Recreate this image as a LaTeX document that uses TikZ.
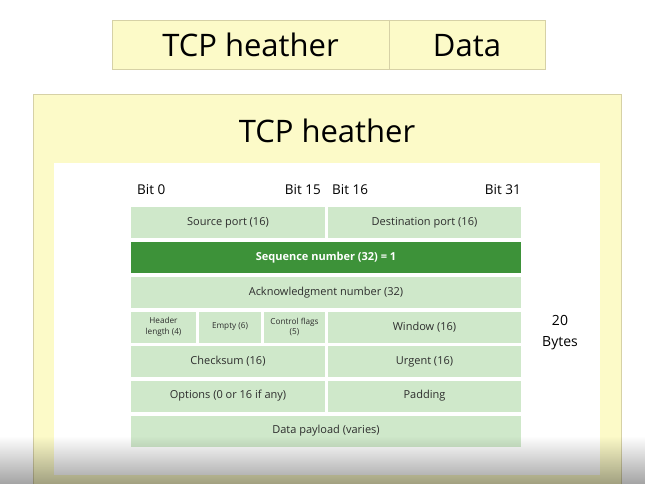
\documentclass[tikz,border=0pt]{standalone}
\usepackage{fontspec}
\setmainfont{Open Sans}
\usepackage{tikz}
\usetikzlibrary{fadings}
\definecolor{hdrY}{RGB}{252,250,200}
\definecolor{hdrLine}{RGB}{214,209,166}
\definecolor{cellG}{RGB}{207,232,202}
\definecolor{seqG}{RGB}{61,146,57}
\definecolor{txtG}{RGB}{45,45,45}
\tikzset{
  cell/.style={fill=cellG, text=txtG, minimum height=31pt, inner sep=0pt,
    align=center, font=\fontsize{11}{13}\selectfont},
  smallcell/.style={cell, font=\fontsize{8.2}{10.5}\selectfont},
  bitlbl/.style={font=\fontsize{13.5}{16}\selectfont, inner sep=0pt},
  bigtxt/.style={font=\fontsize{31}{36}\selectfont, inner sep=0pt}
}

\begin{document}
\begin{tikzpicture}[x=1pt, y=-1pt]
\useasboundingbox[fill=white] (0,0) rectangle (646,484);
% ===== top strip: segment = header + data =====
\draw[hdrLine, fill=hdrY] (112,20) rectangle (545,69);
\draw[hdrLine] (389,20) -- (389,69);
\node[bigtxt, anchor=base] (seghdr) at (250.5,57) {TCP heather};
\node[bigtxt, anchor=base] (segdata) at (467,57) {Data};
% ===== lower panel: the header in detail =====
\draw[hdrLine, fill=hdrY] (33,94) rectangle (621,490);
\fill[white] (54,163) rectangle (600,475);
\node[bigtxt, anchor=base] (title) at (327,143) {TCP heather};
% bit positions
\node[bitlbl, anchor=base west] (bit0) at (137,195) {Bit 0};
\node[bitlbl, anchor=base east] (bit15) at (321,195) {Bit 15};
\node[bitlbl, anchor=base west] (bit16) at (332,195) {Bit 16};
\node[bitlbl, anchor=base east] (bit31) at (521,195) {Bit 31};
% two half-width fields per row
\foreach \y/\l/\r/\n in {222.5/Source port (16)/Destination port (16)/1,
                         361.5/Checksum (16)/Urgent (16)/5,
                         396/Options (0 or 16 if any)/Padding/6}{
  \node[cell, minimum width=194pt] (l\n) at (228,\y) {\l};
  \node[cell, minimum width=193pt] (r\n) at (424.5,\y) {\r};
}
% full-width fields
\node[cell, minimum width=390pt, fill=seqG, text=white, font=\fontsize{11}{13}\selectfont\bfseries]
  (seq) at (326,257.5) {Sequence number (32) = 1};
\node[cell, minimum width=390pt] (ack) at (326,292.5) {Acknowledgment number (32)};
\node[cell, minimum width=390pt] (payload) at (326,431) {Data payload (varies)};
% row with the small fields
\node[smallcell, minimum width=65pt] (hlen) at (163.5,327) {Header\\length (4)};
\node[smallcell, minimum width=62pt] (empty) at (230,327) {Empty (6)};
\node[smallcell, minimum width=61pt] (flags) at (294.5,327) {Control flags\\(5)};
\node[cell, minimum width=193pt] (win) at (424.5,327) {Window (16)};
% size note
\node[font=\fontsize{14}{21}\selectfont, align=center, inner sep=0pt] (size) at (560,333) {20\\Bytes};
% ===== shadow at the bottom edge =====
\fill[black, fill opacity=0.36, path fading=north] (0,436) rectangle (646,484);
\end{tikzpicture}
\end{document}
